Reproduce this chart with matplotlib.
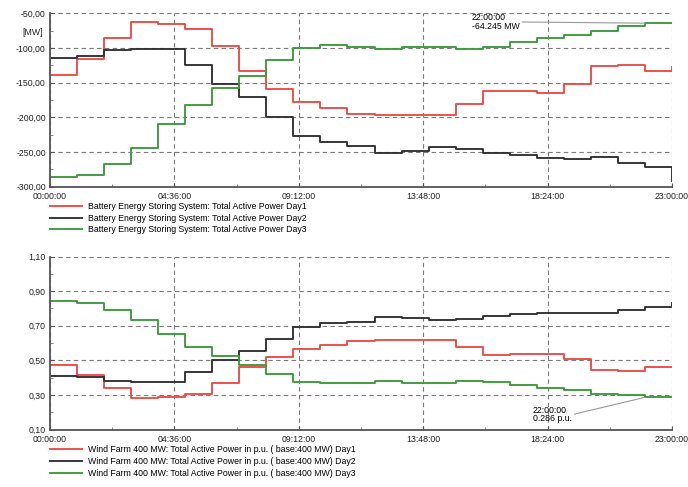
import numpy as np
import matplotlib
matplotlib.use('Agg')
import matplotlib.pyplot as plt
from matplotlib.ticker import FuncFormatter, MultipleLocator

plt.rcParams['font.family'] = ['Liberation Sans', 'DejaVu Sans']

# horas 0..22 (escalones de una hora) + valor final a las 23:00
horas = list(range(24))

bess_dia1 = [-139, -116, -85, -63, -65, -73, -97, -133, -159, -178, -187, -195,
             -196, -196, -196, -181, -162, -162, -165, -152, -126, -125, -133, -127]
bess_dia2 = [-115, -112, -103, -101, -101, -124, -152, -170, -200, -227, -236, -241,
             -251, -248, -243, -245, -252, -255, -259, -260, -257, -266, -271, -292]
bess_dia3 = [-286, -283, -267, -244, -210, -182, -158, -140, -118, -100, -96, -99,
             -101, -98, -98, -101, -99, -92, -85, -82, -75, -68, -64.245, -64.245]

eolica_dia1 = [0.471, 0.414, 0.341, 0.284, 0.287, 0.306, 0.366, 0.459, 0.519, 0.568, 0.588, 0.612,
               0.618, 0.618, 0.618, 0.576, 0.532, 0.536, 0.537, 0.509, 0.446, 0.440, 0.461, 0.461]
eolica_dia2 = [0.412, 0.404, 0.383, 0.375, 0.377, 0.435, 0.503, 0.553, 0.624, 0.691, 0.714, 0.720,
               0.752, 0.742, 0.733, 0.737, 0.756, 0.767, 0.773, 0.775, 0.771, 0.788, 0.806, 0.83]
eolica_dia3 = [0.844, 0.832, 0.790, 0.733, 0.651, 0.576, 0.523, 0.475, 0.421, 0.375, 0.366, 0.370,
               0.379, 0.370, 0.370, 0.379, 0.373, 0.356, 0.341, 0.328, 0.308, 0.299, 0.286, 0.286]

ticks_x = [0, 4.6, 9.2, 13.8, 18.4, 23]
etiquetas_x = ['00:00:00', '04:36:00', '09:12:00', '13:48:00', '18:24:00', '23:00:00']
ticks_bess = [-300, -250, -200, -150, -100, -50]
ticks_eolica = [0.10, 0.30, 0.50, 0.70, 0.90, 1.10]

etiquetas_bess = ['Battery Energy Storing System: Total Active Power Day1',
                  'Battery Energy Storing System: Total Active Power Day2',
                  'Battery Energy Storing System: Total Active Power Day3']
etiquetas_eolica = ['Wind Farm 400 MW: Total Active Power in p.u. ( base:400 MW) Day1',
                    'Wind Farm 400 MW: Total Active Power in p.u. ( base:400 MW) Day2',
                    'Wind Farm 400 MW: Total Active Power in p.u. ( base:400 MW) Day3']

colores = ['#ec4a45', '#303030', '#3b9a3b']
fs = 6.3

W, H = 688, 487
fig = plt.figure(figsize=(W / 100, H / 100), dpi=100)


def px_ax(x0, x1, ytop, ybot):
    return [x0 / W, 1 - ybot / H, (x1 - x0) / W, (ybot - ytop) / H]


def formato(ax, yticks, menor):
    ax.set_xlim(0, 23)
    ax.set_ylim(yticks[0], yticks[-1])
    ax.set_xticks(ticks_x)
    ax.set_xticklabels(etiquetas_x)
    ax.xaxis.set_minor_locator(MultipleLocator(2.3))
    ax.set_yticks(yticks)
    ax.yaxis.set_minor_locator(MultipleLocator(menor))
    ax.yaxis.set_major_formatter(FuncFormatter(lambda v, p: f'{v:.2f}'.replace('.', ',')))
    ax.grid(True, which='major', linestyle=(0, (4, 3)), color='#7a7a7a', linewidth=0.8)
    for s in ['top', 'right']:
        ax.spines[s].set_visible(False)
    for s in ['left', 'bottom']:
        ax.spines[s].set_color('#555555')
        ax.spines[s].set_linewidth(1.3)
    ax.tick_params(which='major', direction='in', length=3, width=0.8, color='#555555',
                   labelsize=fs, pad=3, labelcolor='#222222')
    ax.tick_params(which='minor', direction='in', length=2, width=0.6, color='#777777')
    ax.tick_params(axis='x', which='major', pad=4)


ax1 = fig.add_axes(px_ax(50, 672, 13.3, 186.7))
for y, c, lab in zip([bess_dia1, bess_dia2, bess_dia3], colores, etiquetas_bess):
    ax1.step(horas, y, where='post', color=c, linewidth=1.35, label=lab)
formato(ax1, ticks_bess, 25)
ax1.text(-0.012, 0.89, '[MW]', transform=ax1.transAxes, ha='right', va='center',
         fontsize=fs, color='#222222')
ax1.annotate('22:00:00\n-64.245 MW', xy=(horas[22], bess_dia3[22]), xytext=(15.6, -62.5),
             fontsize=fs, ha='left', va='center', linespacing=0.9,
             arrowprops=dict(arrowstyle='-', color='#999999', lw=0.8, relpos=(1, 0.5),
                             shrinkA=0, shrinkB=0))
ax1.legend(loc='upper left', bbox_to_anchor=(50 / W, 1 - 202 / H), bbox_transform=fig.transFigure,
           frameon=False, fontsize=fs, handlelength=3.7, handletextpad=0.7,
           labelspacing=0.3, borderpad=0, borderaxespad=0)

ax2 = fig.add_axes(px_ax(50, 672, 256.5, 429.5))
for y, c, lab in zip([eolica_dia1, eolica_dia2, eolica_dia3], colores, etiquetas_eolica):
    ax2.step(horas, y, where='post', color=c, linewidth=1.35, label=lab)
formato(ax2, ticks_eolica, 0.1)
ax2.annotate('22:00:00\n0.286 p.u.', xy=(horas[22], eolica_dia3[22]), xytext=(17.85, 0.185),
             fontsize=fs, ha='left', va='center', linespacing=0.9,
             arrowprops=dict(arrowstyle='-', color='#999999', lw=0.8, relpos=(1, 0.5),
                             shrinkA=0, shrinkB=0))
ax2.legend(loc='upper left', bbox_to_anchor=(50 / W, 1 - 445.5 / H), bbox_transform=fig.transFigure,
           frameon=False, fontsize=fs, handlelength=3.7, handletextpad=0.7,
           labelspacing=0.3, borderpad=0, borderaxespad=0)

fig.savefig('out.png', dpi=100)
